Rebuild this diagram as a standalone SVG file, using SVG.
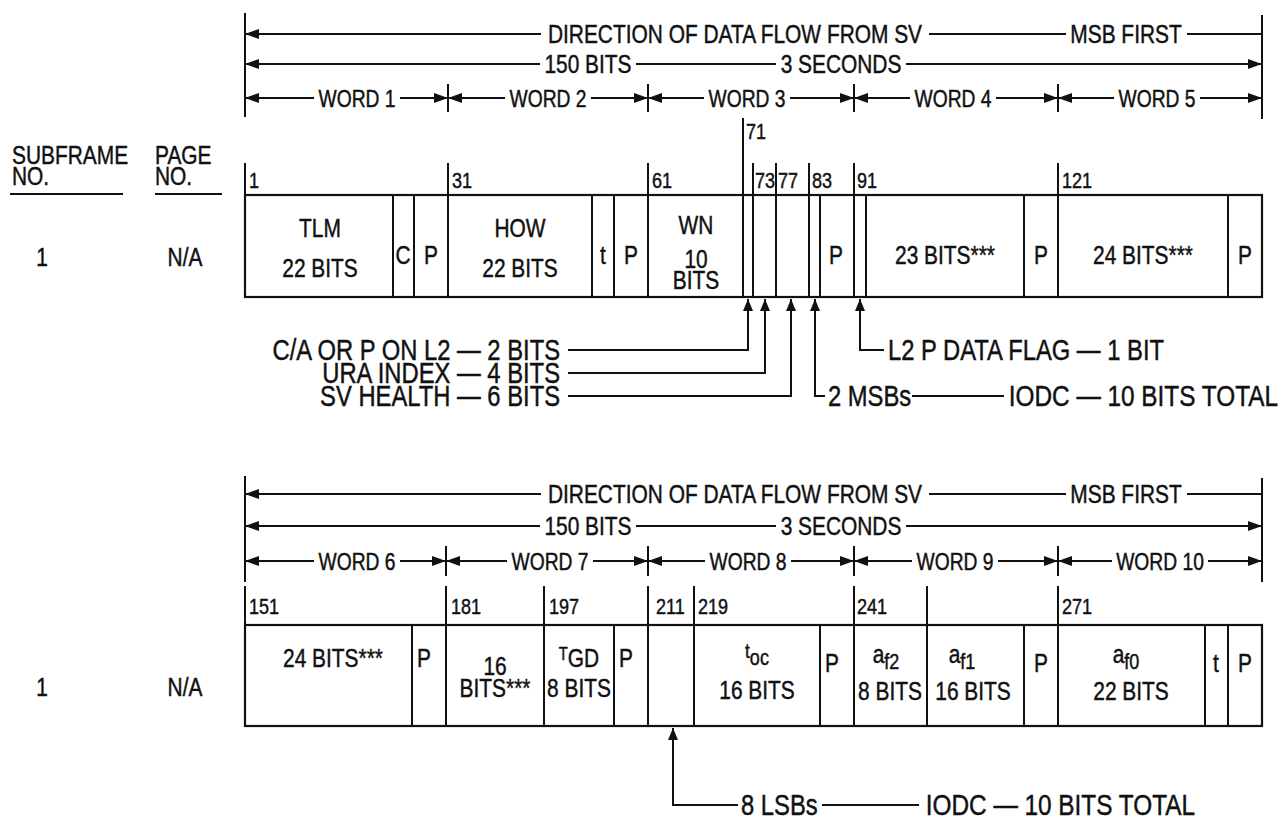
<svg xmlns="http://www.w3.org/2000/svg" width="1280" height="828" viewBox="0 0 1280 828">
<defs>
<style>
text{font-family:"Liberation Sans",Arial,sans-serif;fill:#111;stroke:#111;stroke-width:0.45px}
.h{font-size:25.5px}
.w{font-size:23.5px}
.m{text-anchor:middle}
.e{text-anchor:end}
.n{font-size:22px}
.b{font-size:25.5px;text-anchor:middle}
.a{font-size:29px}
.ln{stroke:#111;stroke-width:2;fill:none}
.box{stroke:#111;stroke-width:2.2;fill:#fff}
</style>
<marker id="ah" viewBox="0 0 14 10" refX="14" refY="5" markerWidth="14" markerHeight="10" markerUnits="userSpaceOnUse" orient="auto-start-reverse"><path d="M0,0 L14,5 L0,10 z" fill="#111"/></marker>
<marker id="au" viewBox="0 0 12 10" refX="12" refY="5" markerWidth="12" markerHeight="10" markerUnits="userSpaceOnUse" orient="auto"><path d="M0,0 L12,5 L0,10 z" fill="#111"/></marker>
</defs>
<rect width="1280" height="828" fill="#fff"/>

<!-- ===== Left column headers ===== -->
<g id="col-headers">
<text class="h" transform="matrix(.82 0 0 1 12 164)" font-size="24">SUBFRAME</text>
<text class="h" transform="matrix(.82 0 0 1 12 185)" font-size="24">NO.</text>
<line class="ln" x1="10" y1="194" x2="123" y2="194"/>
<text class="h" transform="matrix(.82 0 0 1 155 164)" font-size="24">PAGE</text>
<text class="h" transform="matrix(.82 0 0 1 155 185)" font-size="24">NO.</text>
<line class="ln" x1="155" y1="194" x2="222" y2="194"/>
</g>
<g id="row1-ids">
<text class="h m" transform="matrix(.82 0 0 1 42 266)">1</text>
<text class="h m" transform="matrix(.82 0 0 1 185 266)">N/A</text>
</g>
<g id="row2-ids">
<text class="h m" transform="matrix(.82 0 0 1 42 696)">1</text>
<text class="h m" transform="matrix(.82 0 0 1 185 696)">N/A</text>
</g>

<!-- ===== Frame 1 header ===== -->
<g id="frame1-header">
<line class="ln" x1="245" y1="13" x2="245" y2="117"/>
<line class="ln" x1="1262" y1="15" x2="1262" y2="119"/>
<line class="ln" x1="245" y1="34" x2="541" y2="34" marker-start="url(#ah)"/>
<line class="ln" x1="929" y1="34" x2="1066" y2="34"/>
<line class="ln" x1="1187" y1="34" x2="1262" y2="34"/>
<text class="h m" transform="matrix(.82 0 0 1 735 43)">DIRECTION OF DATA FLOW FROM SV</text>
<text class="h m" transform="matrix(.82 0 0 1 1126 43)">MSB FIRST</text>
<line class="ln" x1="245" y1="64" x2="540" y2="64" marker-start="url(#ah)"/>
<line class="ln" x1="636" y1="64" x2="776" y2="64"/>
<line class="ln" x1="906" y1="64" x2="1262" y2="64" marker-end="url(#ah)"/>
<text class="h m" transform="matrix(.82 0 0 1 588 73)">150 BITS</text>
<text class="h m" transform="matrix(.82 0 0 1 841 73)">3 SECONDS</text>
<g id="frame1-words">
<path class="ln" d="M448,84V112M648,84V112M854,84V112M1058,84V112"/>
<line class="ln" x1="245" y1="98" x2="314" y2="98" marker-start="url(#ah)"/>
<line class="ln" x1="400" y1="98" x2="448" y2="98" marker-end="url(#ah)"/>
<line class="ln" x1="448" y1="98" x2="505" y2="98" marker-start="url(#ah)"/>
<line class="ln" x1="591" y1="98" x2="648" y2="98" marker-end="url(#ah)"/>
<line class="ln" x1="648" y1="98" x2="704" y2="98" marker-start="url(#ah)"/>
<line class="ln" x1="790" y1="98" x2="854" y2="98" marker-end="url(#ah)"/>
<line class="ln" x1="854" y1="98" x2="910" y2="98" marker-start="url(#ah)"/>
<line class="ln" x1="996" y1="98" x2="1058" y2="98" marker-end="url(#ah)"/>
<line class="ln" x1="1058" y1="98" x2="1114" y2="98" marker-start="url(#ah)"/>
<line class="ln" x1="1200" y1="98" x2="1262" y2="98" marker-end="url(#ah)"/>
<text class="w m" transform="matrix(.82 0 0 1 357 107)">WORD 1</text>
<text class="w m" transform="matrix(.82 0 0 1 548 107)">WORD 2</text>
<text class="w m" transform="matrix(.82 0 0 1 747 107)">WORD 3</text>
<text class="w m" transform="matrix(.82 0 0 1 953 107)">WORD 4</text>
<text class="w m" transform="matrix(.82 0 0 1 1157 107)">WORD 5</text>
</g>
</g>

<!-- ===== Frame 1 bit ticks ===== -->
<g id="frame1-ticks">
<path class="ln" d="M245,163V195M448,163V195M648,163V195M743,118V195M753,163V195M776,163V195M809,163V195M854,163V195M1058,163V195"/>
<text class="n" transform="matrix(.82 0 0 1 249 188)">1</text>
<text class="n" transform="matrix(.82 0 0 1 452 188)">31</text>
<text class="n" transform="matrix(.82 0 0 1 652 188)">61</text>
<text class="n" transform="matrix(.82 0 0 1 746 139)">71</text>
<text class="n" transform="matrix(.82 0 0 1 755 188)">73</text>
<text class="n" transform="matrix(.82 0 0 1 778 188)">77</text>
<text class="n" transform="matrix(.82 0 0 1 812 188)">83</text>
<text class="n" transform="matrix(.82 0 0 1 857 188)">91</text>
<text class="n" transform="matrix(.82 0 0 1 1062 188)">121</text>
</g>

<!-- ===== Frame 1 cells ===== -->
<g id="frame1-cells">
<rect class="box" x="245" y="195" width="1017" height="102"/>
<path class="ln" d="M393,195V297M414,195V297M448,195V297M592,195V297M614,195V297M648,195V297M743,195V297M753,195V297M776,195V297M809,195V297M820,195V297M854,195V297M866,195V297M1024,195V297M1058,195V297M1228,195V297"/>
<g id="c-tlm"><text class="b" transform="matrix(.82 0 0 1 320 237)">TLM</text><text class="b" transform="matrix(.82 0 0 1 320 277)">22 BITS</text></g>
<g id="c-c1"><text class="b" transform="matrix(.82 0 0 1 403 264)">C</text></g>
<g id="c-p1"><text class="b" transform="matrix(.82 0 0 1 431 264)">P</text></g>
<g id="c-how"><text class="b" transform="matrix(.82 0 0 1 520 237)">HOW</text><text class="b" transform="matrix(.82 0 0 1 520 277)">22 BITS</text></g>
<g id="c-t1"><text class="b" transform="matrix(.82 0 0 1 603 264)">t</text></g>
<g id="c-p2"><text class="b" transform="matrix(.82 0 0 1 631 264)">P</text></g>
<g id="c-wn"><text class="b" transform="matrix(.82 0 0 1 696 234)">WN</text><text class="b" transform="matrix(.82 0 0 1 696 268)">10</text><text class="b" transform="matrix(.82 0 0 1 696 289)">BITS</text></g>
<g id="c-p3"><text class="b" transform="matrix(.82 0 0 1 836 264)">P</text></g>
<g id="c-w4"><text class="b" transform="matrix(.82 0 0 1 945 264)">23 BITS***</text></g>
<g id="c-p4"><text class="b" transform="matrix(.82 0 0 1 1041 264)">P</text></g>
<g id="c-w5"><text class="b" transform="matrix(.82 0 0 1 1143 264)">24 BITS***</text></g>
<g id="c-p5"><text class="b" transform="matrix(.82 0 0 1 1245 264)">P</text></g>
</g>

<!-- ===== Frame 1 annotations ===== -->
<g id="frame1-notes">
<text class="a e" transform="matrix(.82 0 0 1 560 360)">C/A OR P ON L2 — 2 BITS</text>
<text class="a e" transform="matrix(.82 0 0 1 560 383)">URA INDEX — 4 BITS</text>
<text class="a e" transform="matrix(.82 0 0 1 560 406)">SV HEALTH — 6 BITS</text>
<text class="a" transform="matrix(.82 0 0 1 888 360)">L2 P DATA FLAG — 1 BIT</text>
<text class="a" transform="matrix(.82 0 0 1 828 406)">2 MSBs</text>
<text class="a e" transform="matrix(.84 0 0 1 1278 406)">IODC — 10 BITS TOTAL</text>
</g>

<!-- ===== Frame 2 header ===== -->
<g id="frame2-header">
<line class="ln" x1="245" y1="476" x2="245" y2="582"/>
<line class="ln" x1="1262" y1="478" x2="1262" y2="582"/>
<line class="ln" x1="245" y1="494" x2="541" y2="494" marker-start="url(#ah)"/>
<line class="ln" x1="929" y1="494" x2="1066" y2="494"/>
<line class="ln" x1="1187" y1="494" x2="1262" y2="494"/>
<text class="h m" transform="matrix(.82 0 0 1 735 503)">DIRECTION OF DATA FLOW FROM SV</text>
<text class="h m" transform="matrix(.82 0 0 1 1126 503)">MSB FIRST</text>
<line class="ln" x1="245" y1="526" x2="540" y2="526" marker-start="url(#ah)"/>
<line class="ln" x1="636" y1="526" x2="776" y2="526"/>
<line class="ln" x1="906" y1="526" x2="1262" y2="526" marker-end="url(#ah)"/>
<text class="h m" transform="matrix(.82 0 0 1 588 535)">150 BITS</text>
<text class="h m" transform="matrix(.82 0 0 1 841 535)">3 SECONDS</text>
<g id="frame2-words">
<path class="ln" d="M446,546V576M648,546V576M854,546V576M1058,546V576"/>
<line class="ln" x1="245" y1="561" x2="314" y2="561" marker-start="url(#ah)"/>
<line class="ln" x1="400" y1="561" x2="446" y2="561" marker-end="url(#ah)"/>
<line class="ln" x1="446" y1="561" x2="507" y2="561" marker-start="url(#ah)"/>
<line class="ln" x1="593" y1="561" x2="648" y2="561" marker-end="url(#ah)"/>
<line class="ln" x1="648" y1="561" x2="705" y2="561" marker-start="url(#ah)"/>
<line class="ln" x1="791" y1="561" x2="854" y2="561" marker-end="url(#ah)"/>
<line class="ln" x1="854" y1="561" x2="912" y2="561" marker-start="url(#ah)"/>
<line class="ln" x1="998" y1="561" x2="1058" y2="561" marker-end="url(#ah)"/>
<line class="ln" x1="1058" y1="561" x2="1112" y2="561" marker-start="url(#ah)"/>
<line class="ln" x1="1208" y1="561" x2="1262" y2="561" marker-end="url(#ah)"/>
<text class="w m" transform="matrix(.82 0 0 1 357 570)">WORD 6</text>
<text class="w m" transform="matrix(.82 0 0 1 550 570)">WORD 7</text>
<text class="w m" transform="matrix(.82 0 0 1 748 570)">WORD 8</text>
<text class="w m" transform="matrix(.82 0 0 1 955 570)">WORD 9</text>
<text class="w m" transform="matrix(.82 0 0 1 1160 570)">WORD 10</text>
</g>
</g>

<!-- ===== Frame 2 bit ticks ===== -->
<g id="frame2-ticks">
<path class="ln" d="M245,586V625M446,586V625M544,586V625M648,586V625M694,586V625M854,586V625M927,586V625M1058,586V625"/>
<text class="n" transform="matrix(.82 0 0 1 249 614)">151</text>
<text class="n" transform="matrix(.82 0 0 1 451 614)">181</text>
<text class="n" transform="matrix(.82 0 0 1 549 614)">197</text>
<text class="n" transform="matrix(.82 0 0 1 656 614)">211</text>
<text class="n" transform="matrix(.82 0 0 1 698 614)">219</text>
<text class="n" transform="matrix(.82 0 0 1 857 614)">241</text>
<text class="n" transform="matrix(.82 0 0 1 1062 614)">271</text>
</g>

<!-- ===== Frame 2 cells ===== -->
<g id="frame2-cells">
<rect class="box" x="245" y="625" width="1017" height="101"/>
<path class="ln" d="M412,625V726M446,625V726M544,625V726M614,625V726M648,625V726M694,625V726M820,625V726M854,625V726M927,625V726M1024,625V726M1058,625V726M1205,625V726M1228,625V726"/>
<g id="c-w6"><text class="b" transform="matrix(.82 0 0 1 333 667)">24 BITS***</text></g>
<g id="c-p6"><text class="b" transform="matrix(.82 0 0 1 424 667)">P</text></g>
<g id="c-w7"><text class="b" transform="matrix(.82 0 0 1 495 675)">16</text><text class="b" transform="matrix(.82 0 0 1 495 697)">BITS***</text></g>
<g id="c-tgd"><text class="b" transform="matrix(.82 0 0 1 579 667)"><tspan font-size="18" dy="-7">T</tspan><tspan dy="7">GD</tspan></text><text class="b" transform="matrix(.82 0 0 1 579 697)">8 BITS</text></g>
<g id="c-p7"><text class="b" transform="matrix(.82 0 0 1 626 667)">P</text></g>
<g id="c-toc"><text class="b" transform="matrix(.82 0 0 1 757 665)"><tspan font-size="21" dy="-7">t</tspan><tspan font-size="22" dy="7">oc</tspan></text><text class="b" transform="matrix(.82 0 0 1 757 699)">16 BITS</text></g>
<g id="c-p8"><text class="b" transform="matrix(.82 0 0 1 832 672)">P</text></g>
<g id="c-af2"><text class="b" transform="matrix(.82 0 0 1 886 663)"><tspan>a</tspan><tspan font-size="22" dy="6">f2</tspan></text><text class="b" transform="matrix(.82 0 0 1 890 700)" font-size="20">8 BITS</text></g>
<g id="c-af1"><text class="b" transform="matrix(.82 0 0 1 962 663)"><tspan>a</tspan><tspan font-size="22" dy="6">f1</tspan></text><text class="b" transform="matrix(.82 0 0 1 973 700)">16 BITS</text></g>
<g id="c-p9"><text class="b" transform="matrix(.82 0 0 1 1041 672)">P</text></g>
<g id="c-af0"><text class="b" transform="matrix(.82 0 0 1 1126 663)"><tspan>a</tspan><tspan font-size="22" dy="6">f0</tspan></text><text class="b" transform="matrix(.82 0 0 1 1131 700)">22 BITS</text></g>
<g id="c-t10"><text class="b" transform="matrix(.82 0 0 1 1216 672)">t</text></g>
<g id="c-p10"><text class="b" transform="matrix(.82 0 0 1 1245 672)">P</text></g>
</g>

<!-- ===== Frame 2 annotations ===== -->
<g id="frame2-notes">
<text class="a" transform="matrix(.82 0 0 1 741 815)">8 LSBs</text>
<text class="a e" transform="matrix(.84 0 0 1 1195 815)">IODC — 10 BITS TOTAL</text>
</g>

<!-- ===== Connectors ===== -->
<g id="connectors">
<path class="ln" d="M568,350H748V299" marker-end="url(#au)"/>
<path class="ln" d="M568,373H765V299" marker-end="url(#au)"/>
<path class="ln" d="M568,396H791V299" marker-end="url(#au)"/>
<path class="ln" d="M825,396H815V299" marker-end="url(#au)"/>
<path class="ln" d="M884,350H860V299" marker-end="url(#au)"/>
<line class="ln" x1="912" y1="396" x2="1004" y2="396"/>
<path class="ln" d="M738,805H673V728" marker-end="url(#au)"/>
<line class="ln" x1="822" y1="805" x2="919" y2="805"/>
</g>
</svg>
